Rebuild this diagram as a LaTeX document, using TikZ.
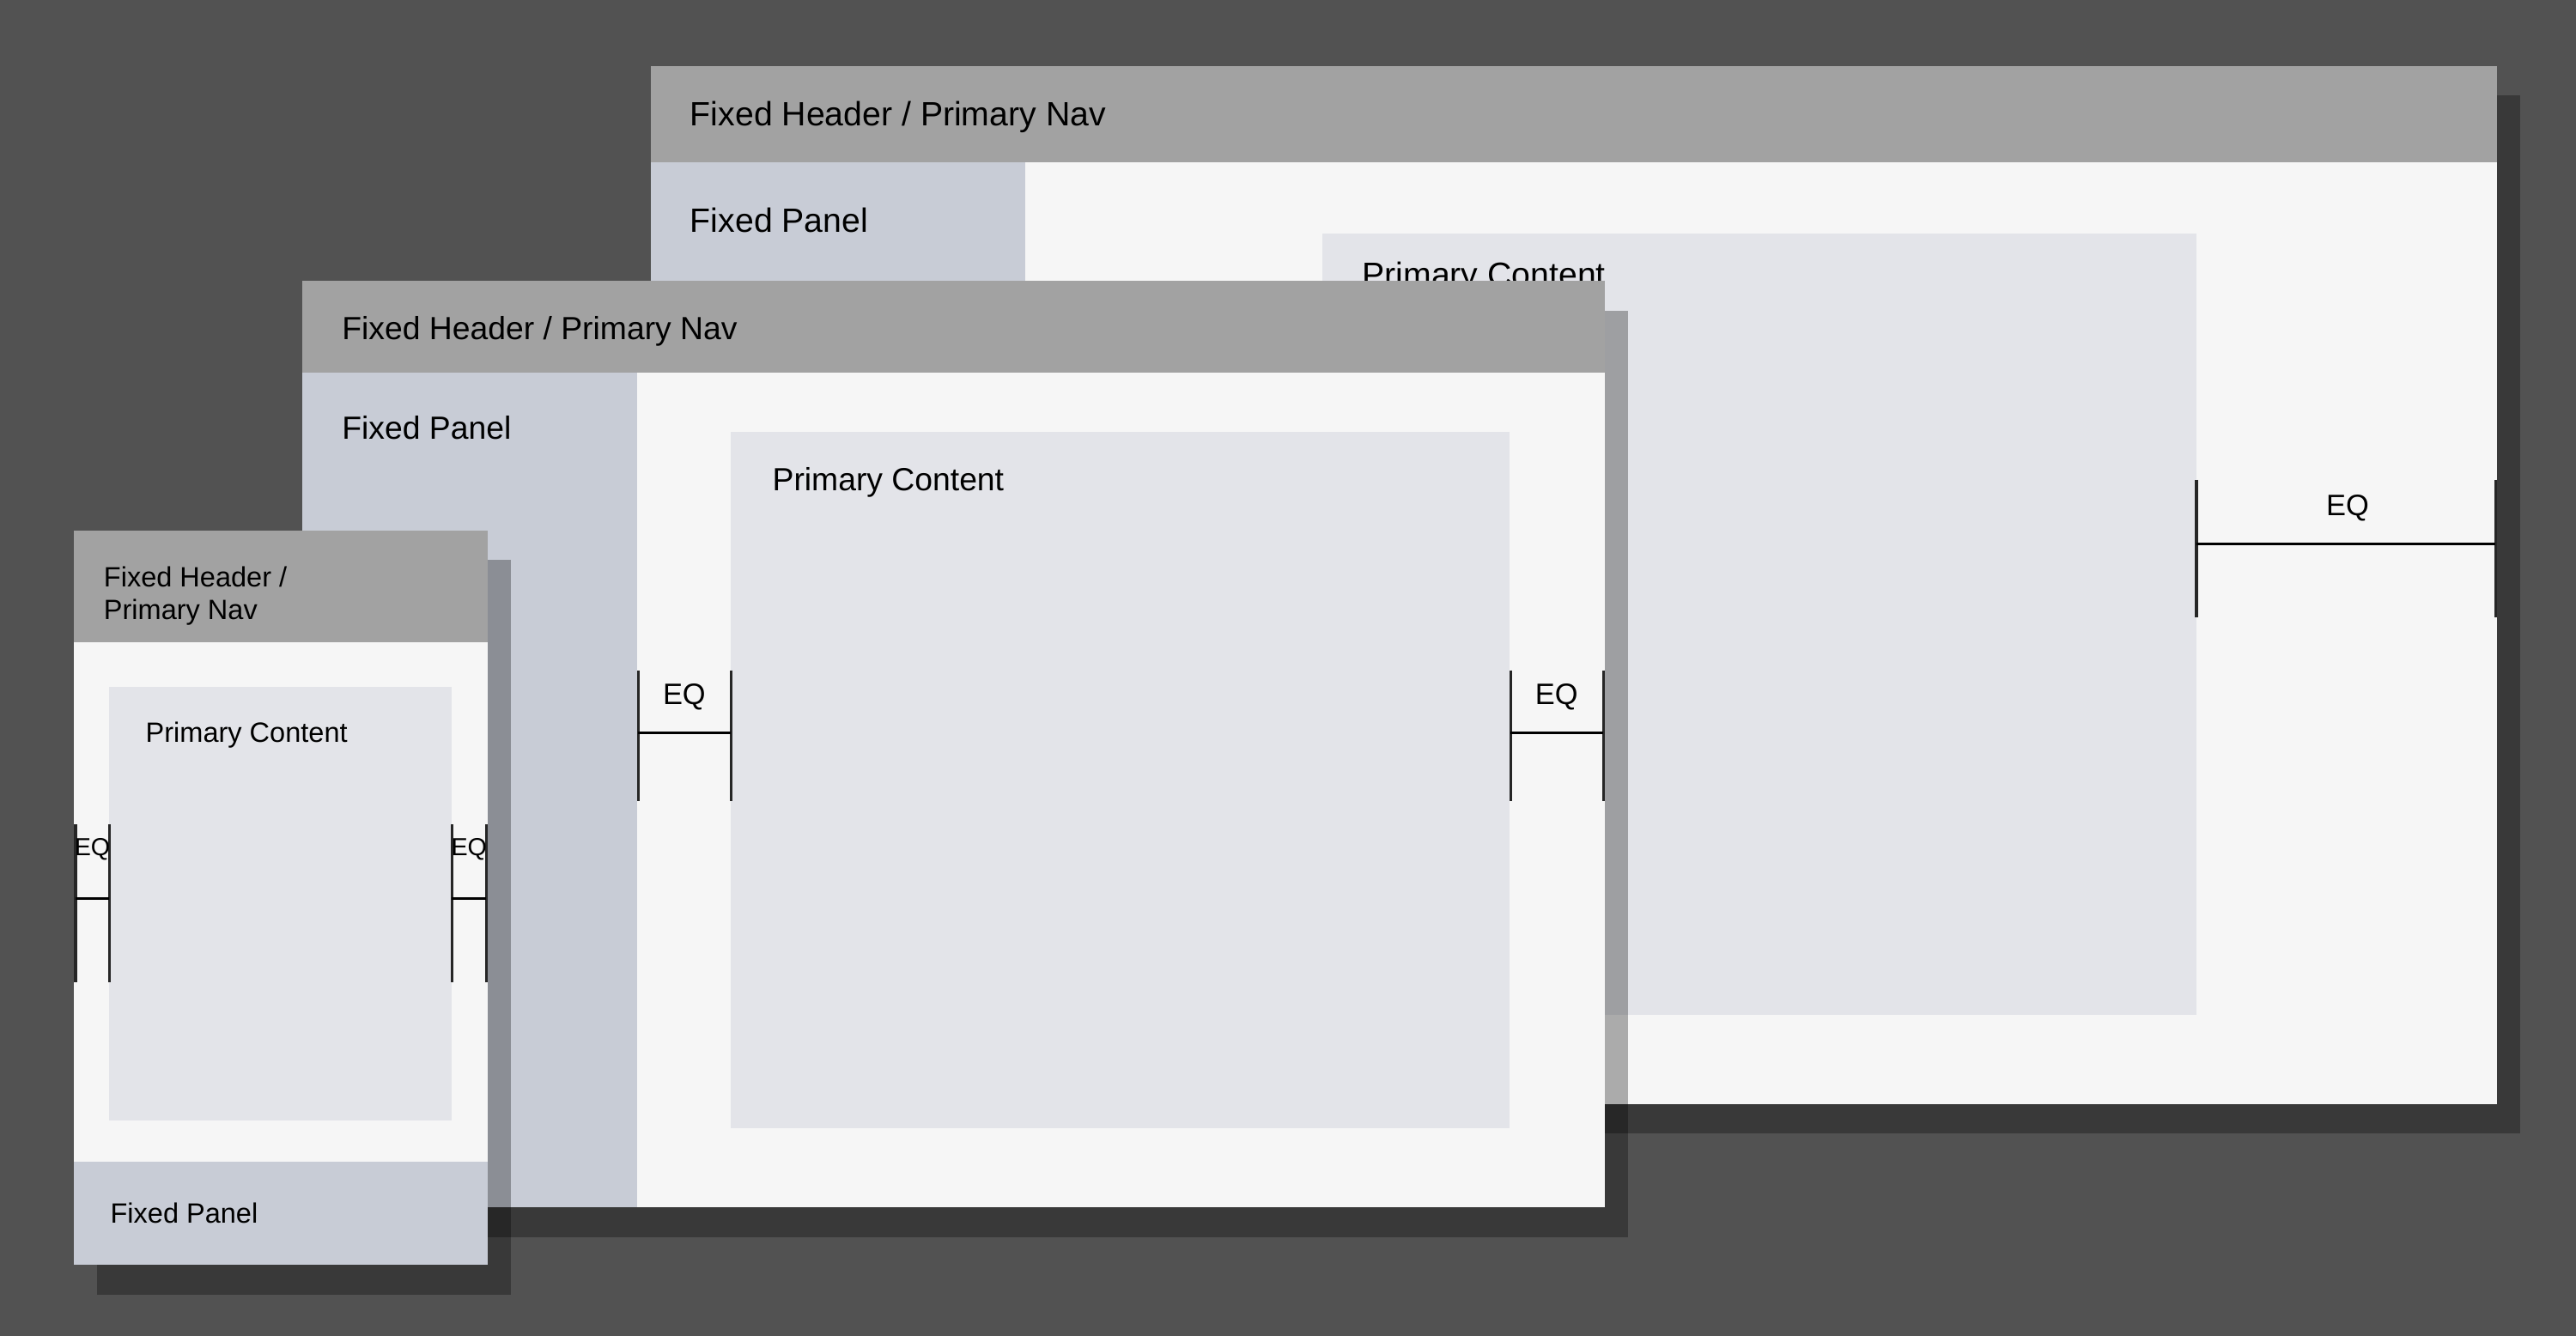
\documentclass[tikz,border=0pt]{standalone}
\usepackage{fontspec}
\setmainfont{Liberation Sans}
\definecolor{bgc}{HTML}{525252}
\definecolor{hdr}{HTML}{A2A2A2}
\definecolor{pnl}{HTML}{C8CCD6}
\definecolor{win}{HTML}{F6F6F6}
\definecolor{cnt}{HTML}{E3E4E9}
\definecolor{barc}{HTML}{262626}
\tikzset{
  shade box/.style={fill=black,fill opacity=0.3},
  lbl/.style={anchor=base west,inner sep=0pt,text=black},
  eqlbl/.style={anchor=base,inner sep=0pt,text=black},
  eqbar/.style={draw=barc,line width=1.7pt},
  eqline/.style={draw=black,line width=1.8pt},
}
\begin{document}
\begin{tikzpicture}[x=1pt,y=-1pt]
\fill[bgc] (0,0) rectangle (1568,813);
\useasboundingbox (0,0) rectangle (1568,813);

% ---------- Large window ----------
\fill[shade box] (410,58) rectangle (1534,690);
\fill[win] (396,40) rectangle (1520,672);
\fill[hdr] (396,40) rectangle (1520,99);
\fill[pnl] (396,99) rectangle (624,672);
\fill[cnt] (805,142) rectangle (1337,618);
\node[lbl,font=\fontsize{20.5}{24}\selectfont] (lhdr) at (420,76.5) {Fixed Header / Primary Nav};
\node[lbl,font=\fontsize{20.5}{24}\selectfont] (lpnl) at (420,141.5) {Fixed Panel};
\node[lbl,font=\fontsize{20.5}{24}\selectfont] (lcnt) at (829,174.5) {Primary Content};
\coordinate (la1) at (1337,292); \coordinate (la2) at (1337,376);
\coordinate (lb1) at (1519,292); \coordinate (lb2) at (1519,376);
\coordinate (lc1) at (1337,331); \coordinate (lc2) at (1519,331);
\draw[eqbar] (la1) -- (la2);
\draw[eqbar] (lb1) -- (lb2);
\draw[eqline] (lc1) -- (lc2);
\node[eqlbl,font=\fontsize{18}{20}\selectfont] (leq) at (1429,314) {EQ};

% ---------- Medium window ----------
\fill[shade box] (198,189) rectangle (991,753);
\fill[win] (184,171) rectangle (977,735);
\fill[hdr] (184,171) rectangle (977,227);
\fill[pnl] (184,227) rectangle (388,735);
\fill[cnt] (445,263) rectangle (919,687);
\node[lbl,font=\fontsize{19.5}{23}\selectfont] (mhdr) at (208,206.5) {Fixed Header / Primary Nav};
\node[lbl,font=\fontsize{19.5}{23}\selectfont] (mpnl) at (208,267.5) {Fixed Panel};
\node[lbl,font=\fontsize{19.5}{23}\selectfont] (mcnt) at (470,298.5) {Primary Content};
\coordinate (ma1) at (388.5,408); \coordinate (ma2) at (388.5,487.5);
\coordinate (mb1) at (445,408); \coordinate (mb2) at (445,487.5);
\coordinate (mc1) at (388.5,446); \coordinate (mc2) at (445,446);
\draw[eqbar] (ma1) -- (ma2);
\draw[eqbar] (mb1) -- (mb2);
\draw[eqline] (mc1) -- (mc2);
\node[eqlbl,font=\fontsize{18}{20}\selectfont] (meqa) at (416.5,429) {EQ};
\coordinate (md1) at (919.5,408); \coordinate (md2) at (919.5,487.5);
\coordinate (me1) at (976,408); \coordinate (me2) at (976,487.5);
\coordinate (mf1) at (919.5,446); \coordinate (mf2) at (976,446);
\draw[eqbar] (md1) -- (md2);
\draw[eqbar] (me1) -- (me2);
\draw[eqline] (mf1) -- (mf2);
\node[eqlbl,font=\fontsize{18}{20}\selectfont] (meqb) at (947.5,429) {EQ};

% ---------- Small window ----------
\fill[shade box] (59,341) rectangle (311,788);
\fill[win] (45,323) rectangle (297,770);
\fill[hdr] (45,323) rectangle (297,391);
\fill[cnt] (66.5,418) rectangle (275,682);
\fill[pnl] (45,707) rectangle (297,770);
\node[lbl,font=\fontsize{17}{20}\selectfont] (shdra) at (63,357.5) {Fixed Header /};
\node[lbl,font=\fontsize{17}{20}\selectfont] (shdrb) at (63,377.2) {Primary Nav};
\node[lbl,font=\fontsize{17}{20}\selectfont] (scnt) at (88.5,451.7) {Primary Content};
\node[lbl,font=\fontsize{17}{20}\selectfont] (spnl) at (67,744.3) {Fixed Panel};
\coordinate (sa1) at (46,502); \coordinate (sa2) at (46,598);
\coordinate (sb1) at (66.5,502); \coordinate (sb2) at (66.5,598);
\coordinate (sc1) at (46,547); \coordinate (sc2) at (66.5,547);
\draw[eqbar] (sa1) -- (sa2);
\draw[eqbar] (sb1) -- (sb2);
\draw[eqline] (sc1) -- (sc2);
\node[eqlbl,font=\fontsize{15}{17}\selectfont] (seqa) at (56.2,521) {EQ};
\coordinate (sd1) at (275,502); \coordinate (sd2) at (275,598);
\coordinate (se1) at (296,502); \coordinate (se2) at (296,598);
\coordinate (sf1) at (275,547); \coordinate (sf2) at (296,547);
\draw[eqbar] (sd1) -- (sd2);
\draw[eqbar] (se1) -- (se2);
\draw[eqline] (sf1) -- (sf2);
\node[eqlbl,font=\fontsize{15}{17}\selectfont] (seqb) at (285.5,521) {EQ};
\end{tikzpicture}
\end{document}
